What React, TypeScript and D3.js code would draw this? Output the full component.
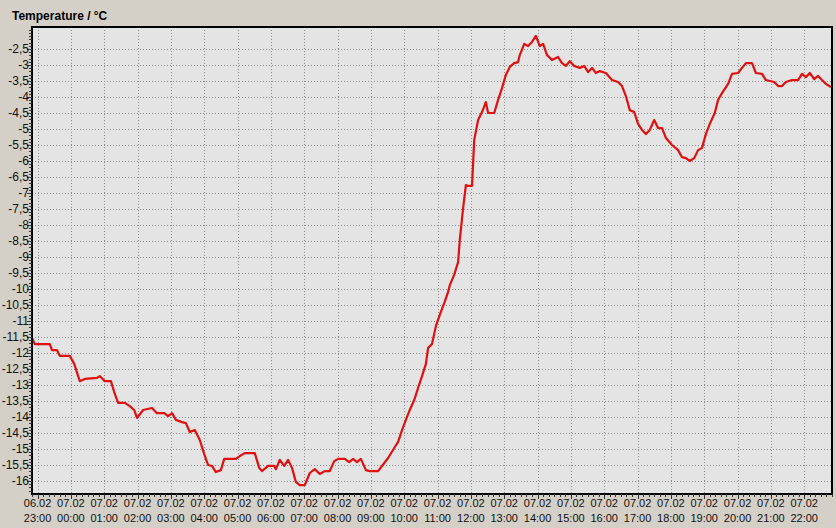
import React from "react";
import * as d3 from "d3";

// minutes since 06.02 22:50
const minutes = [0,5,32,36,45,50,68,76,86,95,117,122,131,142,148,155,167,176,184,189,200,216,225,238,245,252,259,270,277,284,293,302,310,317,324,331,340,346,356,367,374,383,401,409,414,425,436,439,446,454,461,468,475,482,491,500,509,518,527,536,544,551,563,571,578,585,592,601,608,623,630,641,652,659,666,673,680,688,695,702,709,713,720,727,734,742,749,752,760,763,767,770,776,781,785,792,796,803,810,817,821,832,839,846,853,860,868,875,878,886,893,900,907,914,920,927,936,947,954,961,968,976,986,994,1001,1008,1015,1022,1033,1044,1055,1062,1069,1076,1084,1091,1098,1105,1112,1120,1127,1134,1141,1152,1163,1170,1177,1184,1192,1199,1206,1213,1220,1229,1235,1242,1253,1260,1271,1278,1285,1296,1303,1314,1321,1336,1343,1350,1357,1368,1379,1386,1393,1400,1408,1415,1422,1429,1438];
const temperature = [-11.53,-11.72,-11.72,-11.91,-11.91,-12.09,-12.09,-12.34,-12.88,-12.81,-12.78,-12.72,-12.88,-12.88,-13.22,-13.56,-13.56,-13.66,-13.78,-14.03,-13.78,-13.72,-13.88,-13.88,-13.97,-13.88,-14.09,-14.16,-14.19,-14.47,-14.41,-14.72,-15.16,-15.5,-15.53,-15.72,-15.66,-15.31,-15.31,-15.31,-15.22,-15.13,-15.13,-15.59,-15.69,-15.53,-15.53,-15.63,-15.34,-15.53,-15.34,-15.59,-16.03,-16.13,-16.13,-15.75,-15.63,-15.78,-15.69,-15.69,-15.38,-15.31,-15.31,-15.41,-15.31,-15.41,-15.31,-15.66,-15.69,-15.69,-15.53,-15.28,-14.97,-14.78,-14.41,-14.09,-13.78,-13.47,-13.09,-12.72,-12.34,-11.84,-11.72,-11.16,-10.81,-10.44,-10.09,-9.88,-9.56,-9.38,-9.16,-8.47,-7.47,-6.75,-6.78,-6.78,-5.34,-4.72,-4.47,-4.16,-4.5,-4.5,-4.09,-3.72,-3.31,-3.06,-2.94,-2.91,-2.69,-2.34,-2.41,-2.28,-2.09,-2.41,-2.34,-2.69,-2.84,-2.75,-2.94,-3.03,-2.88,-3.03,-3.09,-3.03,-3.22,-3.09,-3.25,-3.19,-3.25,-3.47,-3.53,-3.66,-3.97,-4.41,-4.47,-4.84,-5.03,-5.16,-5.03,-4.72,-4.97,-4.97,-5.28,-5.5,-5.66,-5.88,-5.91,-6.0,-5.91,-5.66,-5.59,-5.16,-4.84,-4.5,-4.09,-3.88,-3.59,-3.28,-3.25,-3.09,-2.94,-2.94,-3.25,-3.28,-3.47,-3.53,-3.66,-3.66,-3.53,-3.47,-3.47,-3.28,-3.38,-3.25,-3.44,-3.34,-3.47,-3.59,-3.69];

const hourDates = ["06.02","07.02","07.02","07.02","07.02","07.02","07.02","07.02","07.02","07.02","07.02","07.02","07.02","07.02","07.02","07.02","07.02","07.02","07.02","07.02","07.02","07.02","07.02","07.02"];
const hourTimes = ["23:00","00:00","01:00","02:00","03:00","04:00","05:00","06:00","07:00","08:00","09:00","10:00","11:00","12:00","13:00","14:00","15:00","16:00","17:00","18:00","19:00","20:00","21:00","22:00"];
const yTickValues = d3.range(-32, -4).map((i) => i / 2); // -16 .. -2.5

const W = 836, H = 528;
const L = 32, R = 832, T = 27, B = 494;

export default function App() {
  const x = d3.scaleLinear().domain([0, 1440]).range([L, R]);
  const y = d3.scaleLinear().domain([-2.5, -16]).range([49, 481]);
  const line = d3
    .line<number>()
    .x((_, i) => x(minutes[i]))
    .y((d) => y(d));
  const hourOffsets = hourTimes.map((_, i) => 10 + i * 60);
  const minorX = d3.range(0, 1441, 10);
  const minorY = d3.range(-163, -18).map((i) => i / 10);
  const fmt = (v: number) => String(v).replace(".", ",");
  return (
    <svg
      width={W}
      height={H}
      style={{ position: "absolute", left: 0, top: 0, display: "block" }}
      fontFamily="'Liberation Sans', Arial, sans-serif"
    >
      <rect x={0} y={0} width={W} height={H} fill="#d4d0c8" />
      <text x={12} y={20} fontSize={12} fontWeight="bold" fill="#000">
        Temperature / °C
      </text>
      <rect x={L} y={T} width={R - L} height={B - T} fill="#e4e4e4" />
      <clipPath id="plotclip">
        <rect x={L} y={T} width={R - L} height={B - T} />
      </clipPath>
      <g stroke="#8c8c8c" strokeWidth={1} strokeDasharray="1,2">
        {yTickValues.map((v) => (
          <line key={"gy" + v} x1={L} x2={R} y1={Math.round(y(v)) + 0.5} y2={Math.round(y(v)) + 0.5} />
        ))}
        {hourOffsets.map((m) => (
          <line key={"gx" + m} x1={Math.round(x(m)) + 0.5} x2={Math.round(x(m)) + 0.5} y1={T} y2={B} />
        ))}
      </g>
      <g clipPath="url(#plotclip)">
        <path
          d={line(temperature) || ""}
          fill="none"
          stroke="#e01010"
          strokeWidth={2.2}
          strokeLinejoin="round"
        />
      </g>
      <rect x={L} y={T} width={R - L} height={B - T} fill="none" stroke="#000" strokeWidth={2} />
      <g stroke="#333" strokeWidth={1}>
        {minorY.map((v) => (
          <line key={"my" + v} x1={L - 3} x2={L} y1={Math.round(y(v)) + 0.5} y2={Math.round(y(v)) + 0.5} />
        ))}
        {yTickValues.map((v) => (
          <line key={"ty" + v} x1={L - 5} x2={L} y1={Math.round(y(v)) + 0.5} y2={Math.round(y(v)) + 0.5} />
        ))}
        {minorX.map((m) => (
          <line key={"mx" + m} x1={Math.round(x(m)) + 0.5} x2={Math.round(x(m)) + 0.5} y1={B} y2={B + 3} />
        ))}
        {hourOffsets.map((m) => (
          <line key={"tx" + m} x1={Math.round(x(m)) + 0.5} x2={Math.round(x(m)) + 0.5} y1={B} y2={B + 5} />
        ))}
      </g>
      <g fontSize={12} fill="#111" textAnchor="end">
        {yTickValues.map((v) => (
          <text key={"ly" + v} x={29} y={y(v)} dy="0.35em">
            {fmt(v)}
          </text>
        ))}
      </g>
      <g fontSize={11} fill="#111" textAnchor="middle">
        {hourOffsets.map((m, i) => (
          <g key={"lx" + m}>
            <text x={x(m)} y={507}>{hourDates[i]}</text>
            <text x={x(m)} y={522}>{hourTimes[i]}</text>
          </g>
        ))}
      </g>
    </svg>
  );
}
